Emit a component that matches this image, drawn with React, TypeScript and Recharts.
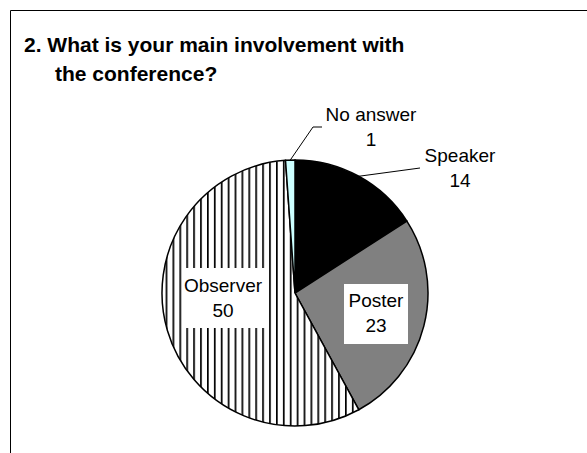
import React from 'react';
import { PieChart, Pie, Cell } from 'recharts';

// survey answers, clockwise from 12 o'clock
const categories = ['Speaker', 'Poster', 'Observer', 'No answer'];
const counts = [14, 23, 50, 1];

const titleLines = ['2. What is your main involvement with', 'the conference?'];

// slice styling
const sliceFills: Record<string, string> = {
    Speaker: '#000000',
    Poster: '#808080',
    Observer: 'url(#vstripes)',
    'No answer': '#ccffff',
};

// label placement, relative to the pie centre (dy = baseline of first line)
type LabelPos = {
    dx: number;
    dy: number;
    box?: { x: number; y: number; w: number; h: number };
    leader?: [number, number][];
};
const labelLayout: Record<string, LabelPos> = {
    Speaker: { dx: 165, dy: -131, leader: [[125, -125]] },
    Poster: { dx: 81, dy: 14, box: { x: 49, y: -9, w: 64, h: 60 } },
    Observer: { dx: -72, dy: -1, box: { x: -113, y: -25, w: 83, h: 60 } },
    'No answer': { dx: 76, dy: -172, leader: [[18, -166], [27, -166]] },
};

const FONT = '"Liberation Sans", Arial, Helvetica, sans-serif';
const RAD = Math.PI / 180;
const LINE_GAP = 25;

const data = categories.map((name, i) => ({ name, value: counts[i] }));

const renderLabel = (props: any) => {
    const { cx, cy, midAngle, outerRadius, name, value } = props;
    const pos = labelLayout[name];
    if (!pos) return null;
    const tx = cx + pos.dx;
    const ty = cy + pos.dy;
    let leader = null;
    if (pos.leader) {
        const ex = cx + outerRadius * Math.cos(-midAngle * RAD);
        const ey = cy + outerRadius * Math.sin(-midAngle * RAD);
        const pts = [[ex, ey], ...pos.leader.map(([x, y]) => [cx + x, cy + y])];
        leader = (
            <polyline
                points={pts.map(p => p.join(',')).join(' ')}
                fill="none"
                stroke="#000"
                strokeWidth={1}
            />
        );
    }
    return (
        <g key={`lbl-${name}`}>
            {leader}
            {pos.box && (
                <rect
                    x={cx + pos.box.x}
                    y={cy + pos.box.y}
                    width={pos.box.w}
                    height={pos.box.h}
                    fill="#fff"
                />
            )}
            <text textAnchor="middle" fontFamily={FONT} fontSize={19} fill="#000">
                <tspan x={tx} y={ty}>{name}</tspan>
                <tspan x={tx} y={ty + LINE_GAP}>{value}</tspan>
            </text>
        </g>
    );
};

export default function App() {
    return (
        <div style={{ position: 'absolute', left: 0, top: 0, width: 587, height: 453, background: '#fff' }}>
            <svg
                width={587}
                height={453}
                style={{ position: 'absolute', left: 0, top: 0 }}
            >
                <path d="M10.5 453 V10.5 H587" fill="none" stroke="#000" strokeWidth={1} />
                <text fontFamily={FONT} fontSize={21} fontWeight="bold" fill="#000">
                    <tspan x={24} y={52}>{titleLines[0]}</tspan>
                    <tspan x={55} y={81}>{titleLines[1]}</tspan>
                </text>
            </svg>
            <div style={{ position: 'absolute', left: 0, top: 0 }}>
                <PieChart width={587} height={453} margin={{ top: 0, right: 0, bottom: 0, left: 0 }}>
                    <defs>
                        <pattern id="vstripes" width={6.9} height={10} patternUnits="userSpaceOnUse">
                            <rect x={0} y={0} width={6.9} height={10} fill="#fff" />
                            <rect x={0} y={0} width={1.7} height={10} fill="#000" />
                        </pattern>
                    </defs>
                    <Pie
                        data={data}
                        dataKey="value"
                        nameKey="name"
                        cx={295}
                        cy={293}
                        outerRadius={133}
                        startAngle={90}
                        endAngle={-270}
                        stroke="#000"
                        strokeWidth={1.5}
                        label={renderLabel}
                        labelLine={false}
                        isAnimationActive={false}
                    >
                        {data.map(d => (
                            <Cell key={d.name} fill={sliceFills[d.name]} />
                        ))}
                    </Pie>
                </PieChart>
            </div>
        </div>
    );
}
